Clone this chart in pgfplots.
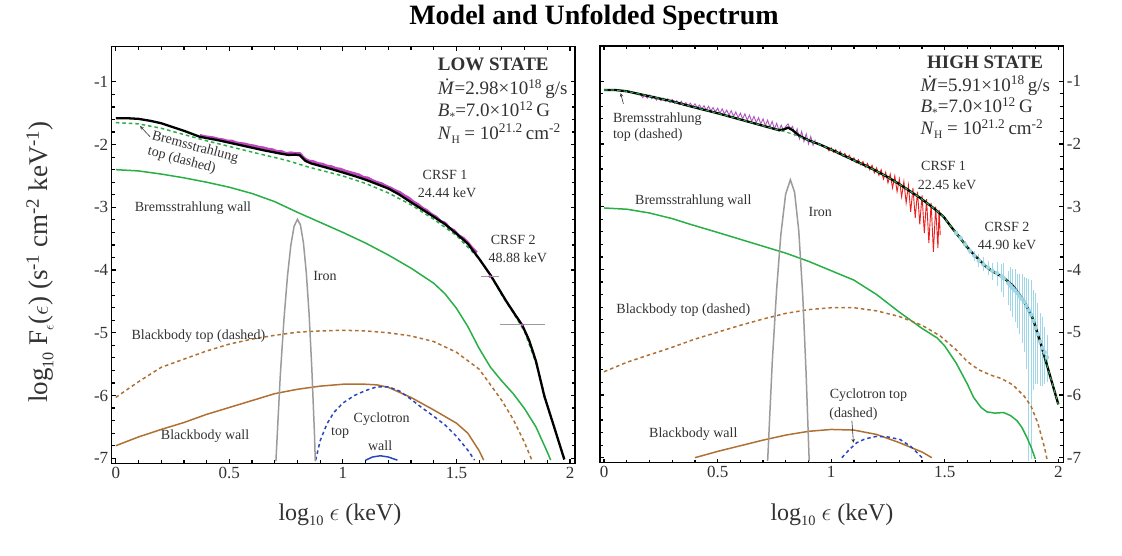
\documentclass[border=0pt]{standalone}
\usepackage{fontspec}
\setmainfont{Liberation Serif}
\usepackage{pgfplots}
\pgfplotsset{compat=1.18}
\definecolor{cgreen}{RGB}{40,175,70}
\definecolor{cbrown}{RGB}{176,112,52}
\definecolor{cblue}{RGB}{40,70,190}
\definecolor{cgray}{RGB}{155,155,155}
\definecolor{cmag}{RGB}{190,70,190}
\definecolor{cpurp}{RGB}{175,85,190}
\definecolor{cred}{RGB}{235,30,30}
\definecolor{ccyan}{RGB}{160,215,232}
\definecolor{ctext}{RGB}{50,50,50}
\newcommand\lsub[1]{\raisebox{-0.45ex}{\scalebox{0.6}{#1}}}
\newcommand\annot{\fontsize{14}{16}\selectfont}
\newcommand\stfont{\fontsize{19}{21}\selectfont}
\pgfplotsset{panel/.style={
  scale only axis, width=463.3pt, height=416.6pt, anchor=south west,
  xmin=-0.018, xmax=2.022, ymin=-7.08, ymax=-0.44,
  xtick={0,0.5,1,1.5,2}, xticklabels={0,0.5,1,1.5,2},
  ytick={-7,-6,-5,-4,-3,-2,-1}, yticklabels={-7,-6,-5,-4,-3,-2,-1},
  minor x tick num=4, minor y tick num=4,
  tick align=inside, major tick length=4pt, minor tick length=3pt,
  every tick/.style={black, line width=1.2pt},
  axis line style={line width=1.3pt},
  tick label style={font=\fontsize{17}{17}\selectfont, text=ctext},
  clip=true},
  tot/.style={black, line width=2.3pt, no marks},
  wallg/.style={cgreen, line width=1.5pt, no marks},
  topg/.style={cgreen, line width=1.5pt, no marks, dash pattern=on 3.5pt off 3pt},
  bbw/.style={cbrown, line width=1.5pt, no marks},
  bbt/.style={cbrown, line width=1.5pt, no marks, dash pattern=on 3.5pt off 3pt},
  cyt/.style={cblue, line width=1.5pt, no marks, dash pattern=on 3.5pt off 3pt},
  cyw/.style={cblue, line width=1.5pt, no marks},
  iron/.style={cgray, line width=1.5pt, no marks},
}
\begin{document}
\begin{tikzpicture}
\useasboundingbox (0pt,0pt) rectangle (1122pt,555pt);
% title and labels
\node[font=\fontsize{28}{30}\selectfont\bfseries] at (594pt,537pt) {Model and Unfolded Spectrum};
\node[font=\fontsize{24}{26}\selectfont, text=ctext] at (340pt,40pt) {log\lsub{10} $\epsilon$ (keV)};
\node[font=\fontsize{24}{26}\selectfont, text=ctext] at (832pt,40pt) {log\lsub{10} $\epsilon$ (keV)};
\node[rotate=90, font=\fontsize{27}{28}\selectfont, text=ctext] at (40pt,293pt) {log\lsub{10} F\lsub{$\epsilon$}($\epsilon$) (s\textsuperscript{-1} cm\textsuperscript{-2} keV\textsuperscript{-1})};

% ================= LEFT PANEL =================
\begin{axis}[panel, at={(111.7pt,91.7pt)}]
% magenta data
\addplot[cmag, line width=2.6pt, no marks] coordinates {
(0.37,-1.85) (0.39,-1.87) (0.41,-1.88) (0.43,-1.89) (0.45,-1.91) (0.47,-1.92) (0.49,-1.94) (0.51,-1.94)
(0.53,-1.97) (0.55,-1.98) (0.57,-1.99) (0.59,-2.01) (0.61,-2.02) (0.63,-2.04) (0.65,-2.05) (0.67,-2.07)
(0.69,-2.08) (0.71,-2.11) (0.73,-2.11) (0.75,-2.14) (0.77,-2.13) (0.79,-2.14) (0.81,-2.14) (0.83,-2.22)
(0.85,-2.26) (0.87,-2.27) (0.89,-2.30) (0.91,-2.31) (0.93,-2.34) (0.95,-2.35) (0.97,-2.38) (0.99,-2.39)
(1.01,-2.42) (1.03,-2.44) (1.05,-2.46) (1.07,-2.48) (1.09,-2.52) (1.11,-2.53) (1.13,-2.57) (1.15,-2.60)
(1.17,-2.62) (1.19,-2.66) (1.21,-2.69) (1.23,-2.73) (1.25,-2.76) (1.27,-2.81) (1.29,-2.85) (1.31,-2.91)
(1.33,-2.95) (1.35,-3.01) (1.37,-3.05) (1.39,-3.11) (1.41,-3.15) (1.43,-3.22) (1.45,-3.25) (1.47,-3.33)
(1.49,-3.37) (1.51,-3.45) (1.53,-3.49) (1.55,-3.56) (1.57,-3.65) (1.59,-3.72)};
% bremsstrahlung top (dashed)
\addplot[topg] coordinates {
(0,-1.65) (0.1,-1.67) (0.2,-1.74) (0.3,-1.84) (0.4,-1.94) (0.5,-2.03) (0.6,-2.12) (0.75,-2.25) (0.85,-2.36)
(1.0,-2.50) (1.1,-2.62) (1.2,-2.77) (1.3,-2.96) (1.4,-3.19) (1.5,-3.45) (1.6,-3.82) (1.65,-4.09) (1.7,-4.40)
(1.75,-4.68) (1.8,-4.98) (1.85,-5.48) (1.9,-6.15) (1.94,-6.62) (1.98,-7.05)};
% total
\addplot[tot] coordinates {
(0,-1.58) (0.05,-1.58) (0.1,-1.59) (0.15,-1.62) (0.2,-1.66) (0.3,-1.78) (0.37,-1.876) (0.45,-1.93)
(0.55,-2.01) (0.65,-2.09) (0.72,-2.14) (0.76,-2.165) (0.79,-2.16) (0.81,-2.17) (0.835,-2.26) (0.86,-2.30)
(0.95,-2.39) (1.05,-2.50) (1.105,-2.566) (1.2,-2.70) (1.25,-2.80) (1.3,-2.92) (1.4,-3.15) (1.45,-3.27)
(1.5,-3.42) (1.55,-3.58) (1.6,-3.82) (1.65,-4.08) (1.68,-4.26) (1.72,-4.50) (1.76,-4.72) (1.79,-4.88)
(1.82,-5.12) (1.85,-5.45) (1.887,-6.01) (1.93,-6.50) (1.975,-7.02)};
% bremsstrahlung wall
\addplot[wallg] coordinates {
(0,-2.40) (0.1,-2.42) (0.2,-2.47) (0.3,-2.53) (0.4,-2.60) (0.5,-2.68) (0.6,-2.78) (0.7,-2.91) (0.8,-3.08)
(0.9,-3.24) (1.0,-3.40) (1.1,-3.57) (1.2,-3.76) (1.3,-3.97) (1.4,-4.21) (1.45,-4.38) (1.5,-4.61) (1.55,-4.90)
(1.6,-5.25) (1.65,-5.55) (1.7,-5.77) (1.75,-5.97) (1.8,-6.21) (1.85,-6.50) (1.9,-6.90) (1.915,-7.03)};
% blackbody top
\addplot[bbt] coordinates {
(0,-6.03) (0.1,-5.78) (0.2,-5.55) (0.3,-5.42) (0.4,-5.29) (0.5,-5.18) (0.6,-5.10) (0.7,-5.04) (0.8,-4.99)
(0.9,-4.97) (1.0,-4.96) (1.1,-4.97) (1.2,-5.00) (1.3,-5.05) (1.4,-5.14) (1.5,-5.31) (1.6,-5.58) (1.7,-6.08)
(1.75,-6.38) (1.8,-6.75) (1.832,-7.03)};
% blackbody wall
\addplot[bbw] coordinates {
(0,-6.80) (0.1,-6.66) (0.2,-6.54) (0.3,-6.43) (0.4,-6.30) (0.5,-6.19) (0.6,-6.08) (0.7,-5.97) (0.8,-5.90)
(0.9,-5.85) (1.0,-5.82) (1.1,-5.82) (1.15,-5.83) (1.2,-5.87) (1.3,-6.03) (1.4,-6.23) (1.5,-6.44) (1.55,-6.60)
(1.6,-6.88) (1.62,-7.03)};
% cyclotron top
\addplot[cyt] coordinates {
(0.88,-7.03) (0.9,-6.72) (0.93,-6.45) (0.96,-6.27) (1.0,-6.12) (1.05,-6.00) (1.1,-5.92) (1.15,-5.86)
(1.2,-5.86) (1.25,-5.93) (1.3,-6.06) (1.35,-6.20) (1.4,-6.33) (1.45,-6.47) (1.5,-6.65) (1.55,-6.87) (1.58,-7.03)};
% cyclotron wall
\addplot[cyw] coordinates {(1.10,-7.03) (1.13,-6.98) (1.165,-6.96) (1.2,-6.98) (1.24,-7.03)};
% iron
\addplot[iron] coordinates {
(0.705,-7.05) (0.7243,-5.68) (0.7404,-4.79) (0.7559,-4.10) (0.7709,-3.60) (0.7853,-3.30) (0.80,-3.19)
(0.8129,-3.28) (0.8261,-3.56) (0.8388,-4.04) (0.8513,-4.71) (0.8633,-5.58) (0.8751,-6.64) (0.8785,-7.05)};
% isolated data points with error bars
\addplot[cmag, only marks, mark=*, mark size=1.3pt, error bars/.cd, x dir=both, x explicit,
  error bar style={cgray, line width=0.8pt}, error mark=none] coordinates {
(1.79,-4.87) +- (0.10,0) (1.647,-4.10) +- (0.04,0)};
% annotations
\node[font=\fontsize{19}{21}\selectfont\bfseries, anchor=base west, text=ctext] at (axis cs:1.403,-0.814) {LOW STATE};
\node[font=\stfont, anchor=base west, text=ctext] at (axis cs:1.403,-1.20) {\textit{\.M}=2.98×10\textsuperscript{18}\,g/s};
\node[font=\stfont, anchor=base west, text=ctext] at (axis cs:1.403,-1.557) {\textit{B}\lsub{*}=7.0×10\textsuperscript{12}\,G};
\node[font=\stfont, anchor=base west, text=ctext] at (axis cs:1.403,-1.914) {\textit{N}\lsub{H} = 10\textsuperscript{21.2}\,cm\textsuperscript{-2}};
\node[font=\annot, text=ctext, rotate=-15, align=left, inner sep=1pt] at (axis cs:0.34,-2.17) {Bremsstrahlung\\top (dashed)};
\draw[-stealth, ctext, line width=0.6pt] (axis cs:0.151,-1.876) -- (axis cs:0.107,-1.705);
\node[font=\annot, text=ctext] at (axis cs:1.45,-2.49) {CRSF 1};
\node[font=\annot, text=ctext] at (axis cs:1.459,-2.775) {24.44 keV};
\node[font=\annot, text=ctext] at (axis cs:1.75,-3.52) {CRSF 2};
\node[font=\annot, text=ctext] at (axis cs:1.77,-3.81) {48.88 keV};
\node[font=\annot, text=ctext] at (axis cs:0.34,-3.01) {Bremsstrahlung wall};
\node[font=\annot, text=ctext] at (axis cs:0.921,-4.10) {Iron};
\node[font=\annot, text=ctext] at (axis cs:0.364,-5.06) {Blackbody top (dashed)};
\node[font=\annot, text=ctext] at (axis cs:0.393,-6.64) {Blackbody wall};
\node[font=\annot, text=ctext] at (axis cs:1.171,-6.38) {Cyclotron};
\node[font=\annot, text=ctext] at (axis cs:0.988,-6.59) {top};
\node[font=\annot, text=ctext] at (axis cs:1.164,-6.80) {wall};
\end{axis}

% ================= RIGHT PANEL =================
\begin{axis}[panel, at={(600pt,92.3pt)}, yticklabel pos=right, ytick pos=both]
% purple data
\addplot[cpurp, line width=0.9pt, no marks] coordinates {
(0.16,-1.21) (0.17,-1.26) (0.18,-1.22) (0.19,-1.27) (0.20,-1.22) (0.21,-1.28) (0.22,-1.24) (0.23,-1.30)
(0.24,-1.26) (0.25,-1.31) (0.26,-1.27) (0.27,-1.32) (0.28,-1.28) (0.29,-1.34) (0.30,-1.29) (0.31,-1.35)
(0.32,-1.31) (0.33,-1.37) (0.34,-1.32) (0.35,-1.38) (0.36,-1.34) (0.37,-1.39) (0.38,-1.35) (0.39,-1.41)
(0.40,-1.36) (0.41,-1.42) (0.42,-1.38) (0.43,-1.44) (0.44,-1.39) (0.45,-1.46) (0.46,-1.40) (0.47,-1.47)
(0.48,-1.42) (0.49,-1.49) (0.50,-1.43) (0.51,-1.51) (0.52,-1.44) (0.53,-1.52) (0.54,-1.46) (0.55,-1.54)
(0.56,-1.47) (0.57,-1.56) (0.58,-1.49) (0.59,-1.58) (0.60,-1.51) (0.61,-1.60) (0.62,-1.52) (0.63,-1.62)
(0.64,-1.54) (0.65,-1.64) (0.66,-1.56) (0.67,-1.66) (0.68,-1.58) (0.69,-1.68) (0.70,-1.60) (0.71,-1.71)
(0.72,-1.62) (0.73,-1.73) (0.74,-1.64) (0.75,-1.76) (0.76,-1.67) (0.77,-1.79) (0.78,-1.70) (0.79,-1.79)
(0.80,-1.72) (0.81,-1.68) (0.82,-1.76) (0.83,-1.72) (0.84,-1.86) (0.85,-1.76) (0.86,-1.92) (0.87,-1.80)
(0.88,-1.96) (0.89,-1.84) (0.90,-2.00) (0.91,-1.88) (0.92,-2.02) (0.93,-1.93)};
% red data
\addplot[cred, line width=0.9pt, no marks] coordinates {
(0.98,-2.04) (0.99,-2.11) (1.00,-2.06) (1.01,-2.13) (1.02,-2.09) (1.03,-2.16) (1.04,-2.12) (1.05,-2.19)
(1.06,-2.15) (1.07,-2.22) (1.08,-2.18) (1.09,-2.26) (1.10,-2.22) (1.11,-2.30) (1.12,-2.25) (1.13,-2.33)
(1.14,-2.28) (1.15,-2.37) (1.16,-2.31) (1.17,-2.41) (1.18,-2.34) (1.19,-2.46) (1.20,-2.38) (1.21,-2.50)
(1.22,-2.41) (1.23,-2.56) (1.24,-2.45) (1.25,-2.62) (1.26,-2.48) (1.27,-2.70) (1.28,-2.51) (1.29,-2.76)
(1.30,-2.56) (1.31,-2.84) (1.32,-2.60) (1.33,-2.94) (1.34,-2.66) (1.35,-3.08) (1.36,-2.70) (1.37,-3.18)
(1.38,-2.76) (1.39,-3.28) (1.40,-2.82) (1.41,-3.42) (1.42,-2.88) (1.43,-3.58) (1.44,-2.94) (1.45,-3.72)
(1.46,-3.00) (1.47,-3.66) (1.475,-3.05) (1.48,-3.45)};
% cyan data with error bars
\addplot[ccyan, only marks, mark=none, error bars/.cd, y dir=both, y explicit,
  error bar style={ccyan, line width=0.8pt}, error mark=none] table[x=x, y=y, y error plus=ep, y error minus=em] {
x y em ep
1.55 -3.42 0.04 0.04
1.57 -3.50 0.05 0.05
1.59 -3.60 0.06 0.06
1.61 -3.70 0.05 0.05
1.63 -3.78 0.08 0.08
1.65 -3.86 0.10 0.10
1.67 -3.92 0.10 0.12
1.69 -3.97 0.12 0.10
1.71 -4.02 0.15 0.12
1.73 -4.06 0.20 0.18
1.75 -4.11 0.25 0.20
1.76 -4.14 0.30 0.25
1.78 -4.22 0.35 0.20
1.79 -4.26 0.40 0.30
1.80 -4.30 0.45 0.30
1.81 -4.34 0.50 0.35
1.82 -4.38 0.55 0.30
1.83 -4.43 0.60 0.35
1.84 -4.47 0.70 0.40
1.85 -4.52 0.80 0.40
1.86 -4.58 1.00 0.45
1.87 -4.65 2.40 0.50
1.88 -4.72 2.30 0.55
1.89 -4.82 1.10 0.50
1.90 -4.93 0.90 0.55
1.91 -5.03 0.80 0.50
1.92 -5.15 0.70 0.45
1.93 -5.25 0.60 0.50
1.94 -5.32 0.50 0.40
1.95 -5.40 0.40 0.35
};
% total + brems top overlay
\addplot[tot] coordinates {
(0,-1.14) (0.05,-1.14) (0.1,-1.16) (0.2,-1.24) (0.3,-1.32) (0.38,-1.40) (0.5,-1.51) (0.6,-1.61)
(0.7,-1.71) (0.77,-1.78) (0.79,-1.77) (0.81,-1.74) (0.83,-1.78) (0.86,-1.87) (0.9,-1.94) (0.951,-2.01)
(1.0,-2.09) (1.1,-2.26) (1.172,-2.38) (1.25,-2.53) (1.3,-2.64) (1.392,-2.86) (1.45,-3.02) (1.495,-3.16)
(1.53,-3.33) (1.568,-3.50) (1.6,-3.65) (1.627,-3.76) (1.66,-3.88) (1.686,-3.97) (1.72,-4.05) (1.759,-4.13)
(1.8,-4.26) (1.833,-4.42) (1.86,-4.58) (1.89,-4.80) (1.92,-5.15) (1.96,-5.65) (2.0,-6.15)};
\addplot[topg, line width=1.1pt] coordinates {
(0,-1.14) (0.05,-1.14) (0.1,-1.16) (0.2,-1.24) (0.3,-1.32) (0.38,-1.40) (0.5,-1.51) (0.6,-1.61)
(0.7,-1.71) (0.77,-1.78) (0.83,-1.84) (0.9,-1.94) (0.951,-2.01)
(1.0,-2.09) (1.1,-2.26) (1.172,-2.38) (1.25,-2.53) (1.3,-2.64) (1.392,-2.86) (1.45,-3.02) (1.495,-3.16)
(1.53,-3.33) (1.568,-3.50) (1.6,-3.65) (1.627,-3.76) (1.66,-3.88) (1.686,-3.97) (1.72,-4.05) (1.759,-4.13)
(1.8,-4.26) (1.833,-4.42) (1.86,-4.58) (1.89,-4.80) (1.92,-5.15) (1.96,-5.65) (2.0,-6.15)};
% bremsstrahlung wall
\addplot[wallg] coordinates {
(0,-3.02) (0.1,-3.04) (0.2,-3.10) (0.3,-3.19) (0.379,-3.28) (0.5,-3.41) (0.6,-3.52) (0.7,-3.63) (0.8,-3.74)
(0.9,-3.87) (1.0,-4.02) (1.1,-4.17) (1.2,-4.40) (1.3,-4.68) (1.4,-4.94) (1.466,-5.09) (1.5,-5.22)
(1.55,-5.49) (1.6,-5.83) (1.627,-6.04) (1.66,-6.20) (1.686,-6.27) (1.72,-6.29) (1.759,-6.28) (1.79,-6.33)
(1.818,-6.41) (1.84,-6.52) (1.862,-6.68) (1.88,-6.83) (1.899,-7.02)};
% blackbody top
\addplot[bbt] coordinates {
(0,-5.63) (0.1,-5.48) (0.2,-5.36) (0.3,-5.24) (0.4,-5.11) (0.5,-5.00) (0.6,-4.89) (0.7,-4.79) (0.8,-4.70)
(0.9,-4.64) (1.0,-4.61) (1.1,-4.61) (1.2,-4.66) (1.3,-4.75) (1.4,-4.89) (1.48,-5.06) (1.55,-5.28)
(1.6,-5.47) (1.65,-5.60) (1.7,-5.68) (1.75,-5.74) (1.8,-5.84) (1.85,-6.02) (1.88,-6.18) (1.91,-6.45)
(1.94,-6.85) (1.95,-7.02)};
% blackbody wall
\addplot[bbw] coordinates {
(0.40,-7.0) (0.5,-6.90) (0.6,-6.81) (0.7,-6.72) (0.8,-6.64) (0.9,-6.58) (1.0,-6.55) (1.1,-6.56)
(1.2,-6.63) (1.3,-6.76) (1.4,-6.91) (1.443,-7.0)};
% cyclotron top
\addplot[cyt] coordinates {
(1.047,-7.0) (1.08,-6.87) (1.113,-6.76) (1.15,-6.70) (1.2,-6.66) (1.25,-6.67) (1.303,-6.71) (1.35,-6.82) (1.40,-7.0)};
% iron
\addplot[iron] coordinates {
(0.7202,-7.05) (0.7404,-5.48) (0.7597,-4.32) (0.7782,-3.45) (0.7993,-2.80) (0.8202,-2.57) (0.8388,-2.77)
(0.8573,-3.39) (0.8751,-4.44) (0.8893,-5.64) (0.9031,-7.05)};
% annotations
\node[font=\fontsize{19}{21}\selectfont\bfseries, anchor=base west, text=ctext] at (axis cs:1.407,-0.79) {HIGH STATE};
\node[font=\stfont, anchor=base west, text=ctext] at (axis cs:1.378,-1.16) {\textit{\.M}=5.91×10\textsuperscript{18}\,g/s};
\node[font=\stfont, anchor=base west, text=ctext] at (axis cs:1.378,-1.505) {\textit{B}\lsub{*}=7.0×10\textsuperscript{12}\,G};
\node[font=\stfont, anchor=base west, text=ctext] at (axis cs:1.378,-1.85) {\textit{N}\lsub{H} = 10\textsuperscript{21.2}\,cm\textsuperscript{-2}};
\node[font=\annot, text=ctext, anchor=west, align=left, inner sep=1pt] at (axis cs:0.034,-1.725) {Bremsstrahlung\\top (dashed)};
\draw[-stealth, ctext, line width=0.6pt] (axis cs:0.085,-1.36) -- (axis cs:0.073,-1.19);
\node[font=\annot, text=ctext] at (axis cs:1.495,-2.35) {CRSF 1};
\node[font=\annot, text=ctext] at (axis cs:1.51,-2.65) {22.45 keV};
\node[font=\annot, text=ctext] at (axis cs:1.774,-3.32) {CRSF 2};
\node[font=\annot, text=ctext] at (axis cs:1.774,-3.60) {44.90 keV};
\node[font=\annot, text=ctext] at (axis cs:0.393,-2.91) {Bremsstrahlung wall};
\node[font=\annot, text=ctext] at (axis cs:0.952,-3.08) {Iron};
\node[font=\annot, text=ctext] at (axis cs:0.349,-4.65) {Blackbody top (dashed)};
\node[font=\annot, text=ctext] at (axis cs:0.393,-6.63) {Blackbody wall};
\node[font=\annot, text=ctext] at (axis cs:1.164,-6.0) {Cyclotron top};
\node[font=\annot, text=ctext] at (axis cs:1.098,-6.30) {(dashed)};
\draw[-stealth, ctext, line width=0.6pt] (axis cs:1.091,-6.41) -- (axis cs:1.098,-6.76);
\end{axis}
\end{tikzpicture}
\end{document}
